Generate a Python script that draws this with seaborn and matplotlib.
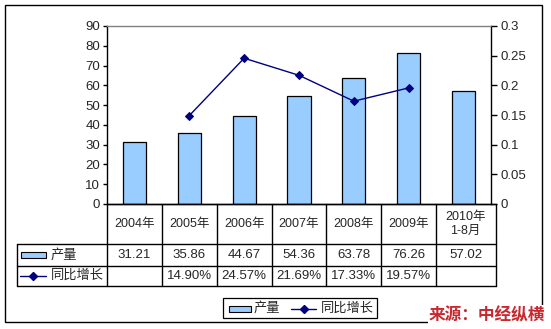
import matplotlib
matplotlib.use("Agg")
import matplotlib.pyplot as plt
from matplotlib.lines import Line2D
from matplotlib.patches import Rectangle
import numpy as np
import pandas as pd
import seaborn as sns

# Output (10k tonnes) and year-on-year growth
categories = ["2004年", "2005年", "2006年", "2007年", "2008年", "2009年", "2010年\n1-8月"]
output = [31.21, 35.86, 44.67, 54.36, 63.78, 76.26, 57.02]
growth = [np.nan, 0.1490, 0.2457, 0.2169, 0.1733, 0.1957, np.nan]
output_labels = ["31.21", "35.86", "44.67", "54.36", "63.78", "76.26", "57.02"]
growth_labels = ["", "14.90%", "24.57%", "21.69%", "17.33%", "19.57%", ""]
left_ticks = [0, 10, 20, 30, 40, 50, 60, 70, 80, 90]
right_ticks = [0, 0.05, 0.1, 0.15, 0.2, 0.25, 0.3]
right_tick_labels = ["0", "0.05", "0.1", "0.15", "0.2", "0.25", "0.3"]
bar_name = "产量"
line_name = "同比增长"
source_text = "来源：中经纵横"

sns.set_theme(style="white")
plt.rcParams["font.family"] = ["Liberation Sans Narrow", "Liberation Sans", "Noto Sans CJK SC", "DejaVu Sans"]

BAR_COLOR = "#99CCFF"
LINE_COLOR = "#000080"

W, H = 551, 329
fig = plt.figure(figsize=(W / 100, H / 100), dpi=100)
fig.patch.set_facecolor("white")


def fx(px):
    return px / W


def fy(py):
    return 1 - py / H


# plot area in pixel coordinates
L, R, T, B = 107, 491, 26, 204
ax = fig.add_axes([fx(L), fy(B), fx(R - L), (B - T) / H])
df = pd.DataFrame({"cat": categories, "output": output, "growth": growth})

sns.barplot(data=df, x="cat", y="output", color=BAR_COLOR, edgecolor="black",
            linewidth=0.9, width=0.42, saturation=1, ax=ax)
ax.set_ylim(0, 90)
ax.set_xlim(-0.5, len(categories) - 0.5)
ax.set_yticks(left_ticks)
ax.set_yticklabels([str(t) for t in left_ticks], fontsize=9.5)
ax.set_xticks([])
ax.set_xlabel("")
ax.set_ylabel("")
ax.tick_params(axis="y", direction="out", length=3, width=1, color="black", pad=2, left=True)
for s in ["left", "right", "bottom"]:
    ax.spines[s].set_color("black")
    ax.spines[s].set_linewidth(1)
ax.spines["top"].set_color("#808080")
ax.spines["top"].set_linewidth(1)

ax2 = ax.twinx()
xs = np.arange(len(categories))
sns.lineplot(x=xs, y=growth, color=LINE_COLOR, marker="D", markersize=4.5,
             markeredgecolor=LINE_COLOR, linewidth=1, ax=ax2)
ax2.set_ylim(0, 0.3)
ax2.set_xlim(-0.5, len(categories) - 0.5)
ax2.set_yticks(right_ticks)
ax2.set_yticklabels(right_tick_labels, fontsize=9.5)
ax2.set_ylabel("")
ax2.tick_params(axis="y", direction="out", length=4, width=1, color="black", pad=3, right=True)
for s in ax2.spines.values():
    s.set_visible(False)

# data table below the plot
col_w = (R - L) / len(categories)
row_head_bottom, row1_bottom, row2_bottom = 244, 266, 286
table_left = 17
lines = []
# horizontal rules
lines.append(([L, R + 5], [B, B]))
lines.append(([table_left, R + 5], [row_head_bottom, row_head_bottom]))
lines.append(([table_left, R + 5], [row1_bottom, row1_bottom]))
lines.append(([table_left, R + 5], [row2_bottom, row2_bottom]))
# vertical rules
lines.append(([table_left, table_left], [row_head_bottom, row2_bottom]))
for i in range(len(categories)):
    x = L + i * col_w
    lines.append(([x, x], [B, row2_bottom]))
lines.append(([R + 5, R + 5], [B, row2_bottom]))
for xsx, ysy in lines:
    fig.add_artist(Line2D([fx(v) for v in xsx], [fy(v) for v in ysy],
                          color="black", linewidth=1))

for i, cat in enumerate(categories):
    cx = L + (i + 0.5) * col_w + (2 if i == len(categories) - 1 else 0)
    fig.text(fx(cx), fy((B + row_head_bottom) / 2), cat, ha="center", va="center",
             fontsize=9, linespacing=1.3)
    fig.text(fx(cx), fy((row_head_bottom + row1_bottom) / 2), output_labels[i],
             ha="center", va="center", fontsize=9.5)
    fig.text(fx(cx), fy((row1_bottom + row2_bottom) / 2), growth_labels[i],
             ha="center", va="center", fontsize=9.5)

# row keys
ry1 = (row_head_bottom + row1_bottom) / 2
ry2 = (row1_bottom + row2_bottom) / 2
fig.add_artist(Rectangle((fx(21), fy(ry1 + 3)), fx(25), 6 / H, facecolor=BAR_COLOR,
                         edgecolor="black", linewidth=0.8))
fig.text(fx(51), fy(ry1), bar_name, ha="left", va="center", fontsize=9.5)
fig.add_artist(Line2D([fx(20), fx(46)], [fy(ry2), fy(ry2)], color=LINE_COLOR, linewidth=1,
                      marker="D", markersize=4.5, markevery=[], markeredgecolor=LINE_COLOR))
fig.add_artist(Line2D([fx(33)], [fy(ry2)], color=LINE_COLOR, marker="D", markersize=4.5,
                      linestyle="none"))
fig.text(fx(51), fy(ry2), line_name, ha="left", va="center", fontsize=9.5)

# bottom legend
fig.add_artist(Rectangle((fx(223), fy(318)), fx(154), 20 / H, facecolor="white",
                         edgecolor="black", linewidth=0.9))
ly = 308.5
fig.add_artist(Rectangle((fx(229), fy(ly + 3)), fx(22), 6 / H, facecolor=BAR_COLOR,
                         edgecolor="black", linewidth=0.8))
fig.text(fx(254), fy(ly), bar_name, ha="left", va="center", fontsize=9.5)
fig.add_artist(Line2D([fx(291), fx(316)], [fy(ly), fy(ly)], color=LINE_COLOR, linewidth=1))
fig.add_artist(Line2D([fx(303.5)], [fy(ly)], color=LINE_COLOR, marker="D", markersize=4.5,
                      linestyle="none"))
fig.text(fx(321), fy(ly), line_name, ha="left", va="center", fontsize=9.5)

# outer frame
fig.add_artist(Rectangle((fx(5), fy(322)), fx(537), 317 / H, facecolor="none",
                         edgecolor="black", linewidth=1))

# source note
fig.text(fx(545), fy(315), source_text, ha="right", va="center", fontsize=12,
         fontweight="bold", fontstyle="italic", color="#C8282E",
         family=["Noto Sans CJK SC", "DejaVu Sans"],
         bbox=dict(facecolor="white", edgecolor="none", pad=0.5))

fig.savefig("out.png", dpi=100, facecolor="white")
